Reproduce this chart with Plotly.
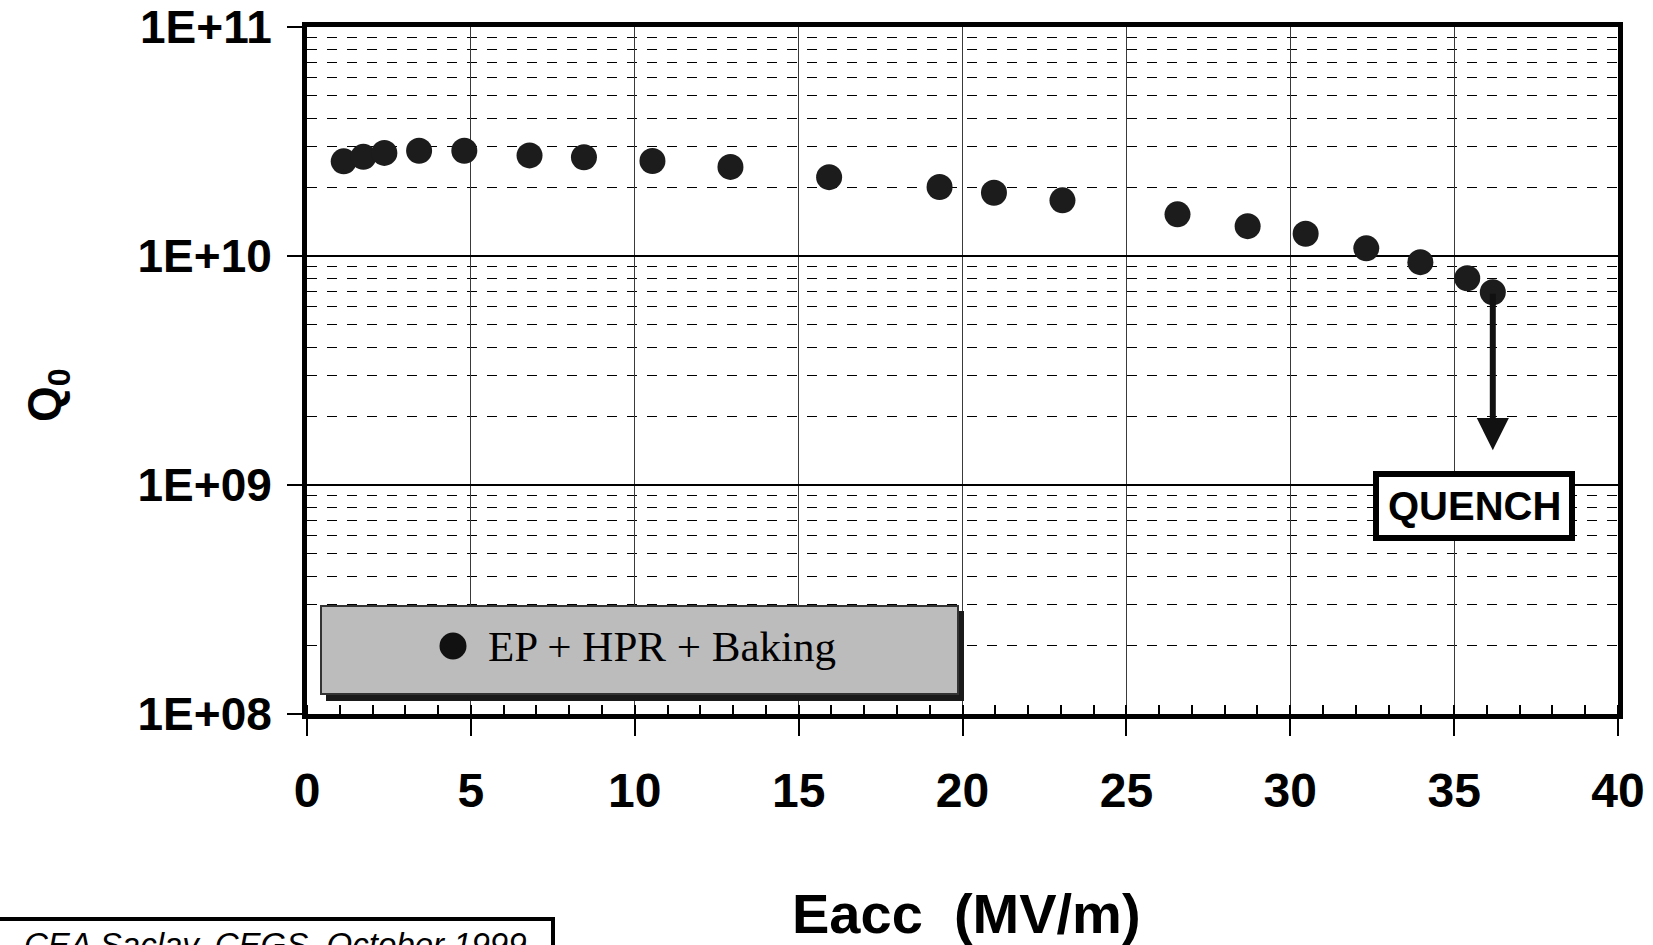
import plotly.graph_objects as go
import math

# ---- data ----
eacc = [1.12, 1.72, 2.36, 3.42, 4.80, 6.79, 8.45, 10.54, 12.92, 15.93,
        19.30, 20.96, 23.05, 26.56, 28.70, 30.47, 32.32, 33.97, 35.40, 36.18]
q0 = [2.59e10, 2.71e10, 2.82e10, 2.88e10, 2.88e10, 2.75e10, 2.70e10, 2.60e10,
      2.45e10, 2.21e10, 2.00e10, 1.89e10, 1.75e10, 1.52e10, 1.35e10, 1.25e10,
      1.08e10, 9.4e9, 8.0e9, 6.95e9]
series_name = "EP + HPR + Baking"
quench_tip_q = 1.42e9
x_ticks = [0, 5, 10, 15, 20, 25, 30, 35, 40]
y_tickvals = [1e8, 1e9, 1e10, 1e11]
y_ticktext = ["1E+08", "1E+09", "1E+10", "1E+11"]
x_title = "Eacc  (MV/m)"
y_title = "Q<sub>0</sub>"
footer_text = "CEA Saclay, CEGS, October 1999"

# ---- layout geometry (pixels) ----
W, H = 1653, 945
L, R, T, B = 307, 1618, 27, 714


def px(x):
    return (x - L) / (R - L)


def py(y):
    return (B - y) / (B - T)


SANS = "Arial, Liberation Sans, Helvetica, sans-serif"
SERIF = "Times New Roman, Liberation Serif, serif"

fig = go.Figure()
fig.add_trace(go.Scatter(
    x=eacc, y=q0, mode="markers", name=series_name,
    marker=dict(size=26, color="#1c1c1c", line=dict(width=0)),
    showlegend=False,
))

shapes = []
annotations = []

# legend box (shadow + grey box) with circle marker
shapes.append(dict(type="rect", xref="paper", yref="paper",
                   x0=px(326), x1=px(964), y0=py(701), y1=py(611),
                   fillcolor="#1a1a1a", line=dict(width=0), layer="above"))
shapes.append(dict(type="rect", xref="paper", yref="paper",
                   x0=px(321), x1=px(958), y0=py(694), y1=py(606),
                   fillcolor="#bcbcbc", line=dict(color="#333333", width=2), layer="above"))
shapes.append(dict(type="circle", xref="paper", yref="paper",
                   x0=px(439.5), x1=px(466.5), y0=py(659.5), y1=py(632.5),
                   fillcolor="#111111", line=dict(width=0), layer="above"))
annotations.append(dict(xref="paper", yref="paper", x=px(486), y=py(646),
                        xanchor="left", yanchor="middle", showarrow=False,
                        text=series_name,
                        font=dict(family=SERIF, size=43, color="black")))

# QUENCH arrow
annotations.append(dict(x=eacc[-1], y=math.log10(quench_tip_q), xref="x", yref="y",
                        ax=eacc[-1], ay=math.log10(q0[-1]), axref="x", ayref="y",
                        showarrow=True, arrowhead=2, arrowwidth=6, arrowsize=1.07,
                        arrowcolor="#111111", text=""))
# QUENCH box
shapes.append(dict(type="rect", xref="paper", yref="paper",
                   x0=px(1376), x1=px(1572), y0=py(538), y1=py(474),
                   fillcolor="white", line=dict(color="black", width=6), layer="above"))
annotations.append(dict(xref="paper", yref="paper", x=px(1474), y=py(506),
                        xanchor="center", yanchor="middle", showarrow=False,
                        text="QUENCH",
                        font=dict(family=SANS, size=40, color="black", weight="bold")))

# axis titles
annotations.append(dict(xref="paper", yref="paper", x=px(966), y=py(913),
                        xanchor="center", yanchor="middle", showarrow=False,
                        text=x_title,
                        font=dict(family=SANS, size=56, color="black", weight="bold")))
annotations.append(dict(xref="paper", yref="paper", x=px(47), y=py(395),
                        xanchor="center", yanchor="middle", showarrow=False,
                        textangle=-90, text=y_title,
                        font=dict(family=SANS, size=46, color="black", weight="bold")))

# footer box (cut by the page edge, as in the reference)
shapes.append(dict(type="rect", xref="paper", yref="paper",
                   x0=px(-20), x1=px(553), y0=py(1000), y1=py(919),
                   fillcolor="white", line=dict(color="black", width=4), layer="above"))
annotations.append(dict(xref="paper", yref="paper", x=px(22), y=py(924),
                        xanchor="left", yanchor="top", showarrow=False,
                        text="<i>" + footer_text + "</i>",
                        font=dict(family=SANS, size=33, color="black")))

fig.update_layout(
    width=W, height=H,
    margin=dict(l=L, r=W - R, t=T, b=H - B, pad=0, autoexpand=False),
    paper_bgcolor="white", plot_bgcolor="white",
    shapes=shapes, annotations=annotations,
    showlegend=False,
)

fig.update_xaxes(
    automargin=False,
    range=[0, 40], tickvals=x_ticks, ticktext=[str(v) for v in x_ticks],
    showline=True, linecolor="black", linewidth=5, mirror=True,
    ticks="outside", ticklen=17, tickwidth=1.5, tickcolor="black",
    ticklabelstandoff=13,
    tickfont=dict(family=SANS, size=48, color="black", weight="bold"),
    showgrid=True, gridcolor="#3a3a3a", gridwidth=1,
    zeroline=False,
    minor=dict(dtick=1, ticks="inside", ticklen=9, tickwidth=1.5,
               tickcolor="black", showgrid=False),
)
fig.update_yaxes(
    automargin=False,
    type="log", range=[8, 11], tickvals=y_tickvals, ticktext=y_ticktext,
    showline=True, linecolor="black", linewidth=5, mirror=True,
    ticks="outside", ticklen=15, tickwidth=1.5, tickcolor="black",
    ticklabelstandoff=6,
    tickfont=dict(family=SANS, size=46, color="black", weight="bold"),
    showgrid=True, gridcolor="black", gridwidth=1.5,
    zeroline=False,
    minor=dict(dtick="D1", showgrid=True, gridcolor="black", gridwidth=1,
               griddash="10px,10px", ticks=""),
)

fig.write_html(
    "out.html",
    config={"displayModeBar": False},
    post_script="document.body.style.margin='0';document.body.style.overflow='hidden';",
)
